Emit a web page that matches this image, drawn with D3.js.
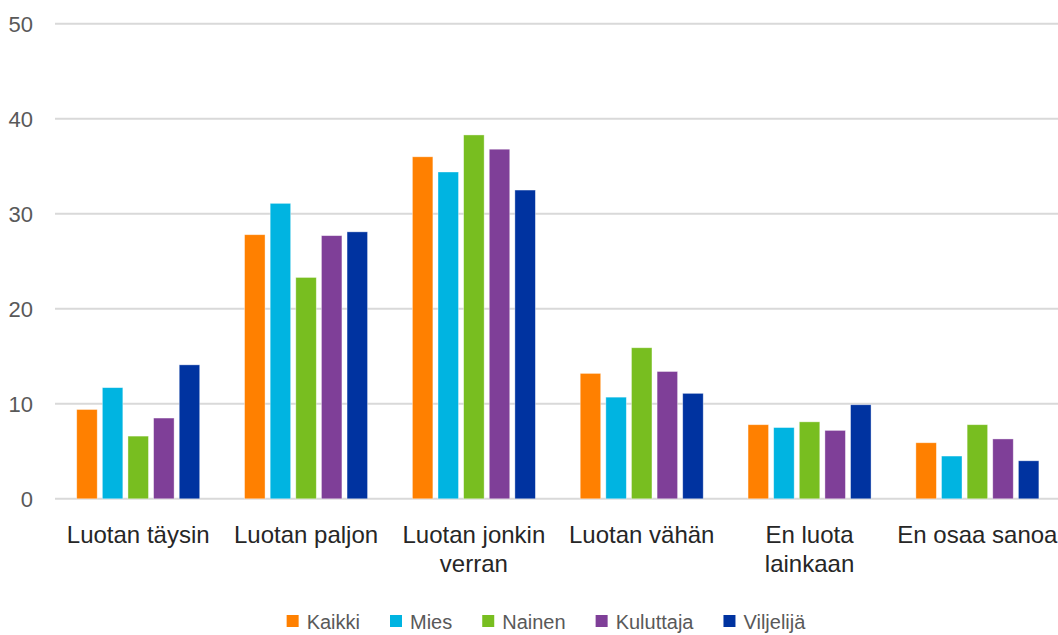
<!DOCTYPE html>
<html>
<head>
<meta charset="utf-8">
<script src="https://cdn.jsdelivr.net/npm/d3@7"></script>
<style>
  body { margin: 0; background: #fff; }
  svg text { font-family: "Liberation Sans", Arial, sans-serif; }
</style>
</head>
<body>
<div id="chart"></div>
<script>
// categories (each label split into its display lines)
var categories = ["Luotan täysin", "Luotan paljon", "Luotan jonkin verran", "Luotan vähän", "En luota lainkaan", "En osaa sanoa"];
var categoryLines = [["Luotan täysin"], ["Luotan paljon"], ["Luotan jonkin", "verran"], ["Luotan vähän"], ["En luota", "lainkaan"], ["En osaa sanoa"]];
var seriesNames = ["Kaikki", "Mies", "Nainen", "Kuluttaja", "Viljelijä"];
var seriesColors = ["#FF8000", "#00B4E1", "#78BE20", "#7F3F98", "#0033A0"];

var kaikki    = [9.4, 27.8, 36.0, 13.2, 7.8, 5.9];
var mies      = [11.7, 31.1, 34.4, 10.7, 7.5, 4.5];
var nainen    = [6.6, 23.3, 38.3, 15.9, 8.1, 7.8];
var kuluttaja = [8.5, 27.7, 36.8, 13.4, 7.2, 6.3];
var viljelija = [14.1, 28.1, 32.5, 11.1, 9.9, 4.0];
var seriesValues = [kaikki, mies, nainen, kuluttaja, viljelija];

var yTicks = [0, 10, 20, 30, 40, 50];

var width = 1058, height = 635;

var svg = d3.select("#chart").append("svg")
	.attr("width", width)
	.attr("height", height);

var x0 = d3.scaleBand()
	.domain(categories)
	.range([54.3, 1061.3])
	.padding(0);

var clusterW = 123;
var x1 = d3.scaleBand()
	.domain(seriesNames)
	.range([(x0.bandwidth() - clusterW) / 2, (x0.bandwidth() + clusterW) / 2])
	.paddingInner(0.2)
	.paddingOuter(0);

var y = d3.scaleLinear()
	.domain([0, 50])
	.range([498.8, 23.8]);

// gridlines
svg.append("g").selectAll("line")
	.data(yTicks)
	.enter()
	.append("line")
		.attr("x1", 55)
		.attr("x2", width)
		.attr("y1", function(d) { return y(d); })
		.attr("y2", function(d) { return y(d); })
		.style("stroke", "#d9d9d9")
		.style("stroke-width", 2);

// y tick labels
svg.append("g").selectAll("text")
	.data(yTicks)
	.enter()
	.append("text")
		.attr("x", 33)
		.attr("y", function(d) { return y(d); })
		.attr("dy", "0.36em")
		.attr("text-anchor", "end")
		.style("font-size", "22px")
		.style("fill", "#595959")
		.text(function(d) { return d; });

// bars
var groups = svg.append("g").selectAll("g")
	.data(categories)
	.enter()
	.append("g")
		.attr("transform", function(d) { return "translate(" + x0(d) + ",0)"; });

groups.selectAll("rect")
	.data(function(d, i) {
		return seriesNames.map(function(s, j) { return { name: s, value: seriesValues[j][i], color: seriesColors[j] }; });
	})
	.enter()
	.append("rect")
		.attr("x", function(d) { return x1(d.name); })
		.attr("y", function(d) { return y(d.value); })
		.attr("width", x1.bandwidth())
		.attr("height", function(d) { return y(0) - y(d.value); })
		.style("fill", function(d) { return d.color; })
		.style("stroke", "#ffffff")
		.style("stroke-opacity", 0.5)
		.style("stroke-width", 0.75);

// category labels
var catLabels = svg.append("g").selectAll("text")
	.data(categories)
	.enter()
	.append("text")
		.attr("x", function(d) { return x0(d) + x0.bandwidth() / 2; })
		.attr("y", 543)
		.attr("text-anchor", "middle")
		.style("font-size", "24px")
		.style("fill", "#262626");

catLabels.selectAll("tspan")
	.data(function(d, i) { return categoryLines[i]; })
	.enter()
	.append("tspan")
		.attr("x", function() { var c = this.parentNode.__data__; return x0(c) + x0.bandwidth() / 2; })
		.attr("dy", function(d, i) { return i === 0 ? 0 : 29; })
		.text(function(d) { return d; });

// legend
var legend = svg.append("g");
var items = legend.selectAll("g")
	.data(seriesNames)
	.enter()
	.append("g");

items.append("rect")
	.attr("width", 12)
	.attr("height", 12)
	.attr("y", 615)
	.style("fill", function(d, i) { return seriesColors[i]; });

items.append("text")
	.attr("x", 20)
	.attr("y", 628.5)
	.style("font-size", "20px")
	.style("fill", "#595959")
	.text(function(d) { return d; });

var gap = 30;
var cursor = 0;
items.each(function() {
	var w = d3.select(this).select("text").node().getComputedTextLength();
	d3.select(this).attr("transform", "translate(" + cursor + ",0)");
	cursor += 20 + w + gap;
});
var total = cursor - gap;
legend.attr("transform", "translate(" + (546 - total / 2) + ",0)");
</script>
</body>
</html>
